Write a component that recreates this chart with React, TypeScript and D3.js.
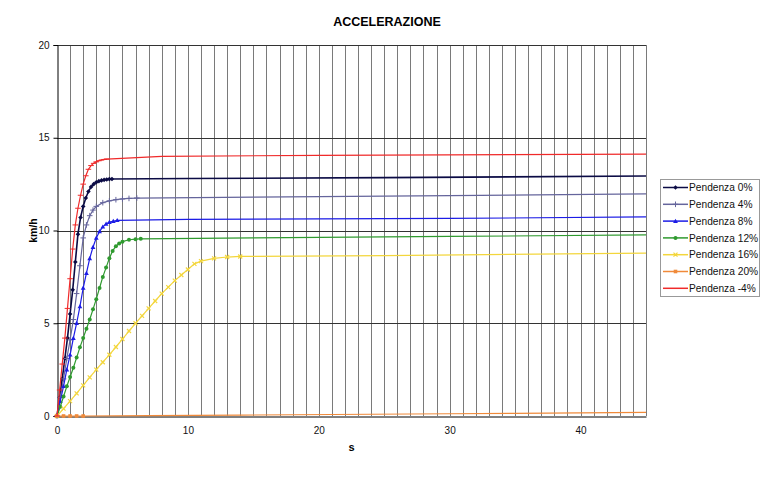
import * as d3 from 'd3';
import { useEffect, useRef } from 'react';

// speed (km/h) vs time (s), one pair of arrays per slope
const timeP0 = [0, 0.2, 0.4, 0.6, 0.8, 1.0, 1.2, 1.4, 1.6, 1.8, 2.0, 2.2, 2.4, 2.6, 2.8, 3.0, 3.2, 3.4, 3.6, 3.8, 4.0, 4.2, 10, 25, 45];
const speedP0 = [0, 1.0, 2.0, 3.1, 4.2, 5.5, 6.8, 8.3, 9.8, 10.7, 11.3, 11.75, 12.1, 12.35, 12.5, 12.6, 12.66, 12.7, 12.73, 12.75, 12.77, 12.78, 12.8, 12.85, 12.94];

const timeP4 = [0, 0.25, 0.5, 0.75, 1.0, 1.25, 1.5, 1.75, 2.0, 2.25, 2.5, 2.75, 3.0, 3.5, 4.0, 4.5, 5.0, 5.5, 6.1, 15, 30, 45];
const speedP4 = [0, 1.0, 2.0, 3.1, 4.1, 5.2, 6.6, 8.1, 9.6, 10.3, 10.8, 11.1, 11.3, 11.5, 11.6, 11.66, 11.7, 11.73, 11.75, 11.8, 11.88, 11.97];

const timeP8 = [0, 0.25, 0.5, 0.75, 1.0, 1.25, 1.5, 1.75, 2.0, 2.25, 2.5, 2.75, 3.0, 3.25, 3.5, 3.75, 4.0, 4.3, 4.6, 10, 30, 45];
const speedP8 = [0, 0.8, 1.6, 2.5, 3.3, 4.2, 5.0, 5.9, 6.9, 7.7, 8.5, 9.1, 9.6, 9.95, 10.2, 10.35, 10.45, 10.5, 10.55, 10.6, 10.65, 10.73];

const timeP12 = [0, 0.25, 0.5, 0.75, 1.0, 1.25, 1.5, 1.75, 2.0, 2.25, 2.5, 2.75, 3.0, 3.25, 3.5, 3.75, 4.0, 4.25, 4.5, 4.75, 5.0, 5.5, 6.0, 6.4, 15, 30, 45];
const speedP12 = [0, 0.5, 1.05, 1.6, 2.1, 2.6, 3.15, 3.7, 4.2, 4.7, 5.2, 5.75, 6.3, 6.9, 7.5, 8.0, 8.5, 8.9, 9.15, 9.3, 9.4, 9.5, 9.53, 9.55, 9.6, 9.68, 9.76];

const timeP16 = [0, 0.5, 1, 1.5, 2, 2.5, 3, 3.5, 4, 4.5, 5, 5.5, 6, 6.5, 7, 7.5, 8, 8.5, 9, 9.5, 10, 10.5, 11, 12, 13, 14, 25, 45];
const speedP16 = [0, 0.4, 0.8, 1.22, 1.65, 2.08, 2.5, 2.9, 3.3, 3.72, 4.15, 4.58, 5.0, 5.4, 5.8, 6.2, 6.6, 6.95, 7.3, 7.6, 7.9, 8.2, 8.35, 8.5, 8.57, 8.6, 8.65, 8.78];

const timeP20 = [0, 0.5, 1, 1.5, 2, 7, 14, 21, 30, 35, 45];
const speedP20 = [0, 0, 0, 0, 0, 0.02, 0.05, 0.08, 0.12, 0.14, 0.2];

const timeM4 = [0, 0.2, 0.4, 0.6, 0.8, 1.0, 1.2, 1.4, 1.6, 1.8, 2.0, 2.2, 2.4, 2.6, 2.8, 3.0, 3.2, 3.4, 3.6, 3.8, 8, 20, 45];
const speedM4 = [0, 1.4, 2.8, 4.2, 5.8, 7.4, 9.0, 10.3, 11.2, 11.9, 12.5, 12.95, 13.3, 13.5, 13.62, 13.7, 13.76, 13.8, 13.83, 13.85, 14.0, 14.05, 14.12];

const seriesNames = ['Pendenza 0%', 'Pendenza 4%', 'Pendenza 8%', 'Pendenza 12%', 'Pendenza 16%', 'Pendenza 20%', 'Pendenza -4%'];
const yTicks = [0, 5, 10, 15, 20];
const xTicks = [0, 10, 20, 30, 40];

const series = [
  { name: seriesNames[0], t: timeP0, v: speedP0, color: '#0b0b45', marker: 'diamond', marked: 22 },
  { name: seriesNames[1], t: timeP4, v: speedP4, color: '#65659c', marker: 'plus', marked: 19 },
  { name: seriesNames[2], t: timeP8, v: speedP8, color: '#1c1ce6', marker: 'triangle', marked: 19 },
  { name: seriesNames[3], t: timeP12, v: speedP12, color: '#2f9a2f', marker: 'circle', marked: 24 },
  { name: seriesNames[4], t: timeP16, v: speedP16, color: '#f3d63c', marker: 'x', marked: 26 },
  { name: seriesNames[5], t: timeP20, v: speedP20, color: '#f08a3a', marker: 'square', marked: 5 },
  { name: seriesNames[6], t: timeM4, v: speedM4, color: '#f02a2a', marker: 'dash', marked: 20 },
];

const FONT = '"Liberation Sans", Arial, sans-serif';

const drawMarker = (g: any, kind: string, x: number, y: number, color: string) => {
  if (kind === 'diamond') {
    g.append('path').attr('d', `M${x},${y - 2.3}L${x + 2.3},${y}L${x},${y + 2.3}L${x - 2.3},${y}Z`).attr('fill', color);
  } else if (kind === 'plus') {
    g.append('path').attr('d', `M${x - 2.8},${y}H${x + 2.8}M${x},${y - 2.8}V${y + 2.8}`).attr('stroke', color).attr('stroke-width', 1);
  } else if (kind === 'triangle') {
    g.append('path').attr('d', `M${x},${y - 2.4}L${x + 2.4},${y + 1.8}L${x - 2.4},${y + 1.8}Z`).attr('fill', color);
  } else if (kind === 'circle') {
    g.append('circle').attr('cx', x).attr('cy', y).attr('r', 2).attr('fill', color);
  } else if (kind === 'x') {
    g.append('path').attr('d', `M${x - 2},${y - 2}L${x + 2},${y + 2}M${x - 2},${y + 2}L${x + 2},${y - 2}`).attr('stroke', color).attr('stroke-width', 1.2);
  } else if (kind === 'square') {
    g.append('rect').attr('x', x - 1.8).attr('y', y - 1.8).attr('width', 3.6).attr('height', 3.6).attr('fill', color);
  } else if (kind === 'dash') {
    g.append('path').attr('d', `M${x - 2.8},${y}H${x + 2.8}`).attr('stroke', color).attr('stroke-width', 1);
  }
};

const AccelChart = () => {
  const svgRef = useRef<any>();
  const width = 781;
  const height = 477;
  const marginLeft = 57;
  const marginRight = 135;
  const marginTop = 45;
  const marginBottom = 61;

  useEffect(() => {
    const svg = d3.select(svgRef.current);
    svg.selectAll('*').remove();

    const x = d3.scaleLinear().domain([0, 45]).range([marginLeft, width - marginRight]);
    const y = d3.scaleLinear().domain([0, 20]).range([height - marginBottom, marginTop]);

    svg.append('rect').attr('width', width).attr('height', height).attr('fill', '#fff');

    // vertical grid, one line per second
    const grid = svg.append('g');
    grid
      .selectAll('line.v')
      .data(d3.range(1, 46))
      .enter()
      .append('line')
      .attr('x1', (d) => Math.round(x(d)) + 0.5)
      .attr('x2', (d) => Math.round(x(d)) + 0.5)
      .attr('y1', y(20))
      .attr('y2', y(0))
      .attr('stroke', '#7a7a7a');
    grid
      .selectAll('line.h')
      .data(yTicks.slice(1))
      .enter()
      .append('line')
      .attr('x1', x(0))
      .attr('x2', x(45))
      .attr('y1', (d) => Math.round(y(d)) + 0.5)
      .attr('y2', (d) => Math.round(y(d)) + 0.5)
      .attr('stroke', '#333');

    // axes
    const yAxis = d3.axisLeft(y).tickValues(yTicks).tickSize(4).tickPadding(4);
    const yg = svg
      .append('g')
      .attr('transform', `translate(${Math.round(x(0)) + 0.5},0)`)
      .call(yAxis);
    const xAxis = d3.axisBottom(x).tickValues(xTicks).tickSize(0).tickPadding(10);
    const xg = svg
      .append('g')
      .attr('transform', `translate(0,${Math.round(y(0)) + 0.5})`)
      .call(xAxis);
    [yg, xg].forEach((g) => {
      g.select('.domain').attr('stroke', '#000');
      g.selectAll('line').attr('stroke', '#000');
      g.selectAll('text').attr('font-family', FONT).attr('font-size', 10).attr('fill', '#111');
    });

    // series
    const line = d3
      .line<number[]>()
      .x((d) => d[0])
      .y((d) => d[1]);
    series.forEach((s) => {
      const pts = s.t.map((t, i) => [x(t), y(s.v[i])]);
      svg
        .append('path')
        .attr('d', line(pts))
        .attr('fill', 'none')
        .attr('stroke', s.color)
        .attr('stroke-width', s.marker === 'diamond' ? 1.6 : 1.2);
      const mg = svg.append('g');
      pts.slice(0, s.marked).forEach((p) => drawMarker(mg, s.marker, p[0], p[1], s.color));
    });

    // titles
    svg
      .append('text')
      .attr('x', 387)
      .attr('y', 26)
      .attr('text-anchor', 'middle')
      .attr('font-family', FONT)
      .attr('font-weight', 'bold')
      .attr('font-size', 12.5)
      .text('ACCELERAZIONE');
    svg
      .append('text')
      .attr('x', (x(0) + x(45)) / 2)
      .attr('y', 451)
      .attr('text-anchor', 'middle')
      .attr('font-family', FONT)
      .attr('font-weight', 'bold')
      .attr('font-size', 11)
      .text('s');
    svg
      .append('text')
      .attr('transform', `translate(37,${y(10)}) rotate(-90)`)
      .attr('text-anchor', 'middle')
      .attr('font-family', FONT)
      .attr('font-weight', 'bold')
      .attr('font-size', 10.5)
      .text('km/h');

    // legend
    const lg = svg.append('g').attr('transform', 'translate(660,179)');
    lg.append('rect')
      .attr('x', 0.5)
      .attr('y', 0.5)
      .attr('width', 99)
      .attr('height', 117)
      .attr('fill', '#fff')
      .attr('stroke', '#999');
    series.forEach((s, i) => {
      const cy = 8.5 + i * 16.8;
      lg.append('line').attr('x1', 3).attr('x2', 28).attr('y1', cy).attr('y2', cy).attr('stroke', s.color).attr('stroke-width', 1.5);
      if (s.marker !== 'dash') drawMarker(lg, s.marker, 15.5, cy, s.color);
      lg.append('text')
        .attr('x', 29)
        .attr('y', cy + 3.7)
        .attr('font-family', FONT)
        .attr('font-size', 10.2)
        .attr('fill', '#111')
        .text(s.name);
    });
  }, []);

  return <svg ref={svgRef} width={width} height={height} style={{ position: 'absolute', left: 0, top: 0 }} />;
};

export default function App() {
  return <AccelChart />;
}
